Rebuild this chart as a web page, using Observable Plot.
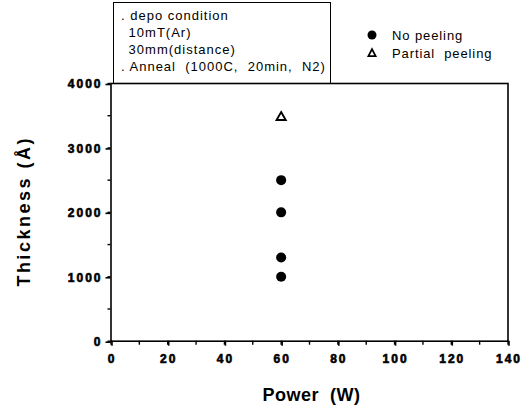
<!DOCTYPE html>
<html><head><meta charset="utf-8">
<script src="https://cdn.jsdelivr.net/npm/d3@7"></script>
<script src="https://cdn.jsdelivr.net/npm/@observablehq/plot@0.6"></script>
<style>
body{margin:0;background:#fff;}
#wrap{position:relative;width:529px;height:408px;font-family:"Liberation Sans",Arial,sans-serif;color:#000;}
#cond{position:absolute;left:113px;top:2px;width:218px;height:81px;box-sizing:border-box;border:1.5px solid #000;border-bottom:none;font-size:13px;letter-spacing:1px;white-space:pre;}
#cond div{position:absolute;}
#leg{position:absolute;left:366px;top:26px;font-size:13px;letter-spacing:0.9px;white-space:pre;}
#leg .row{height:18px;display:flex;align-items:center;}
#leg svg{margin-right:14px;}
</style>
</head><body>
<div id="wrap"></div>
<script>
// data
const noPeelPower = [60, 60, 60, 60];
const noPeelThickness = [1000, 1300, 2000, 2500];
const partialPower = [60];
const partialThickness = [3475];
const xTicks = [0, 20, 40, 60, 80, 100, 120, 140];
const xMinor = [0, 10, 20, 30, 40, 50, 60, 70, 80, 90, 100, 110, 120, 130, 140];
const yTicks = [0, 1000, 2000, 3000, 4000];
const yMinor = [0, 500, 1000, 1500, 2000, 2500, 3000, 3500, 4000];
const xLabel = "Power  (W)";
const yLabel = "Thickness (Å)";
const condLines = [". depo condition", " 10mT(Ar)", " 30mm(distance)", ". Anneal  (1000C,  20min,  N2)"];
const legendLabels = ["No peeling", "Partial  peeling"];

const plot = Plot.plot({
  width: 529, height: 408,
  marginLeft: 110.5, marginRight: 21.5, marginTop: 83, marginBottom: 67.3,
  x: {domain: [0, 140]},
  y: {domain: [0, 4000]},
  style: {background: "#fff", color: "#000", overflow: "visible", fontFamily: "Liberation Sans, Arial, sans-serif"},
  marks: [
    Plot.frame({stroke: "#000", strokeWidth: 1.6}),
    Plot.axisX({ticks: xMinor, tickSize: 4, strokeWidth: 1.4, text: null, label: null}),
    Plot.axisX({ticks: xTicks, tickSize: 5, strokeWidth: 1.6, tickPadding: 8, label: null,
      tickFormat: d3.format("d"), fontSize: 12, fontWeight: "bold", dx: 1}),
    Plot.axisY({ticks: yMinor, tickSize: 3, strokeWidth: 1.4, text: null, label: null}),
    Plot.axisY({ticks: yTicks, tickSize: 5, strokeWidth: 1.6, tickPadding: 3.5, label: null,
      tickFormat: d3.format("d"), fontSize: 12, fontWeight: "bold", dy: 1}),
    Plot.text([xLabel], {frameAnchor: "bottom", textAnchor: "middle", dx: 2, dy: 54, fontSize: 18, fontWeight: "bold", lineAnchor: "middle"}),
    Plot.text([yLabel], {frameAnchor: "left", textAnchor: "middle", dx: -87, dy: -1, rotate: -90, fontSize: 18, fontWeight: "bold", lineAnchor: "middle"}),
    Plot.dot(noPeelPower.map((p, i) => ({p, t: noPeelThickness[i]})), {x: "p", y: "t", r: 5, fill: "#000", stroke: null}),
    Plot.dot(partialPower.map((p, i) => ({p, t: partialThickness[i]})), {x: "p", y: "t", r: 3.4, symbol: "triangle", fill: "#fff", stroke: "#000", strokeWidth: 1.9})
  ]
});
const wrap = document.getElementById("wrap");
wrap.appendChild(plot);

// typographic tweaks applied to the rendered text
const root = d3.select(plot);
root.selectAll("g").filter(function() {
  const a = this.getAttribute("aria-label") || "";
  return a.indexOf("tick label") >= 0;
}).each(function() {
  this.setAttribute("font-weight", "bold");
  this.setAttribute("font-size", "12");
  this.setAttribute("letter-spacing", "2");
  this.setAttribute("stroke", "#000");
  this.setAttribute("stroke-width", "0.6");
  d3.select(this).selectAll("text")
    .style("font-weight", "bold").style("font-size", "12px").style("letter-spacing", "2px")
    .style("stroke", "#000").style("stroke-width", "0.6px");
});
root.selectAll("text").each(function() {
  const t = this.textContent;
  const el = d3.select(this);
  if (t === yLabel) {
    el.style("letter-spacing", "2.5px");
  } else if (t === xLabel) {
    el.style("letter-spacing", "0.5px");
  }
});

// condition box
const cond = document.createElement("div");
cond.id = "cond";
const offs = [[7, 5], [10, 22], [10, 39], [7, 56]];
condLines.forEach((t, i) => {
  const d = document.createElement("div");
  d.textContent = t;
  d.style.left = offs[i][0] + "px";
  d.style.top = offs[i][1] + "px";
  cond.appendChild(d);
});
wrap.appendChild(cond);

// legend
const leg = document.createElement("div");
leg.id = "leg";
const sym = [
  '<svg width="12" height="12"><circle cx="6" cy="6" r="4.5" fill="#000"/></svg>',
  '<svg width="12" height="12"><path d="M6,2.2L9.6,9.2H2.4Z" fill="#fff" stroke="#000" stroke-width="1.8"/></svg>'
];
legendLabels.forEach((t, i) => {
  const r = document.createElement("div");
  r.className = "row";
  r.innerHTML = sym[i] + "<span></span>";
  r.querySelector("span").textContent = t;
  leg.appendChild(r);
});
wrap.appendChild(leg);
</script>
</body></html>
